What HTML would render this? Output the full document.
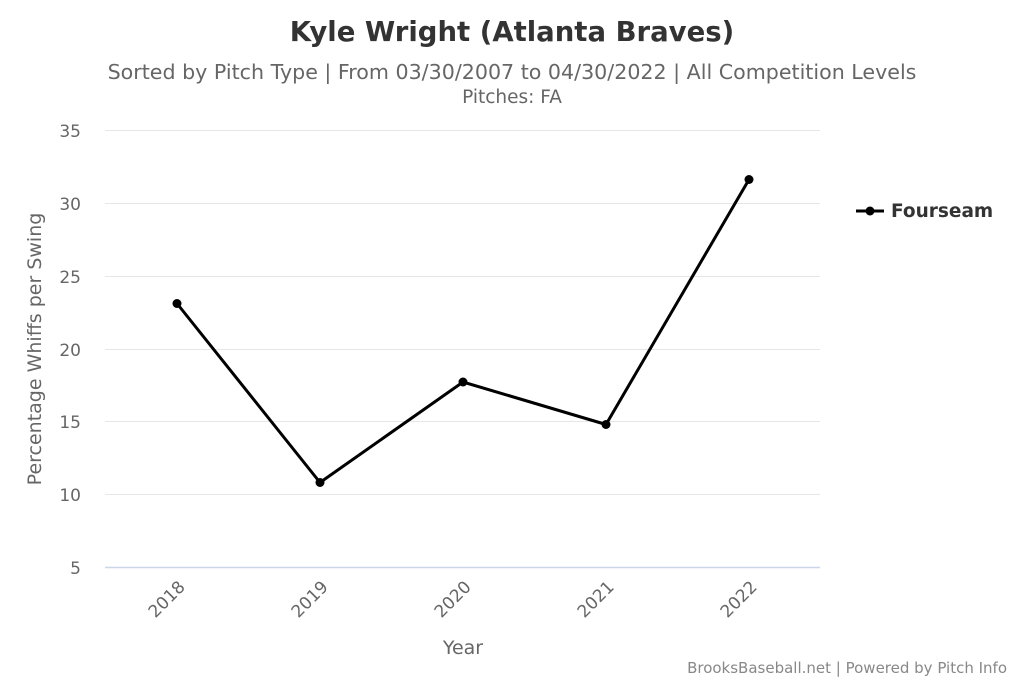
<!DOCTYPE html>
<html><head><meta charset="utf-8"><style>
html,body{margin:0;padding:0;background:#fff;}
svg{display:block;font-family:"DejaVu Sans","Liberation Sans",sans-serif;}
</style></head><body>
<svg width="1024" height="683" viewBox="0 0 1024 683" xmlns="http://www.w3.org/2000/svg">
<rect width="1024" height="683" fill="#fff"/>
<text x="512" y="41" text-anchor="middle" font-size="27.5" font-weight="bold" fill="#333">Kyle Wright (Atlanta Braves)</text>
<text x="512" y="79" text-anchor="middle" font-size="20.6" fill="#666">Sorted by Pitch Type | From 03/30/2007 to 04/30/2022 | All Competition Levels</text>
<text x="512" y="103" text-anchor="middle" font-size="18.5" fill="#666">Pitches: FA</text>
<g stroke="#e6e6e6" stroke-width="1">
<line x1="105" x2="820" y1="130.5" y2="130.5"/>
<line x1="105" x2="820" y1="203.5" y2="203.5"/>
<line x1="105" x2="820" y1="276.5" y2="276.5"/>
<line x1="105" x2="820" y1="349.5" y2="349.5"/>
<line x1="105" x2="820" y1="421.5" y2="421.5"/>
<line x1="105" x2="820" y1="494.5" y2="494.5"/>
</g>
<line x1="105" x2="820" y1="567.5" y2="567.5" stroke="#ccd6eb" stroke-width="1.5"/>
<g font-size="17" fill="#666" text-anchor="end">
<text x="81" y="137">35</text><text x="81" y="210">30</text><text x="81" y="283">25</text>
<text x="81" y="356">20</text><text x="81" y="428">15</text><text x="81" y="501">10</text>
<text x="81" y="574">5</text>
</g>
<text transform="translate(41,349) rotate(-90)" text-anchor="middle" font-size="19" fill="#666">Percentage Whiffs per Swing</text>
<g font-size="17" fill="#666" text-anchor="end">
<text transform="translate(186,588) rotate(-45)">2018</text>
<text transform="translate(329,588) rotate(-45)">2019</text>
<text transform="translate(472,588) rotate(-45)">2020</text>
<text transform="translate(615,588) rotate(-45)">2021</text>
<text transform="translate(758,588) rotate(-45)">2022</text>
</g>
<text x="463" y="654" text-anchor="middle" font-size="19" fill="#666">Year</text>
<polyline points="177,303.5 320,482.5 463,382 606,424.5 749,179.5" fill="none" stroke="#000" stroke-width="3" stroke-linejoin="round"/>
<g fill="#000">
<circle cx="177" cy="303.5" r="4.5"/><circle cx="320" cy="482.5" r="4.5"/><circle cx="463" cy="382" r="4.5"/>
<circle cx="606" cy="424.5" r="4.5"/><circle cx="749" cy="179.5" r="4.5"/>
</g>
<line x1="856" x2="884" y1="211" y2="211" stroke="#000" stroke-width="3"/>
<circle cx="870" cy="211" r="4.5" fill="#000"/>
<text x="891" y="217" font-size="18.5" font-weight="bold" fill="#333">Fourseam</text>
<text x="1007" y="673" text-anchor="end" font-size="15" fill="#888">BrooksBaseball.net | Powered by Pitch Info</text>
</svg>
</body></html>
